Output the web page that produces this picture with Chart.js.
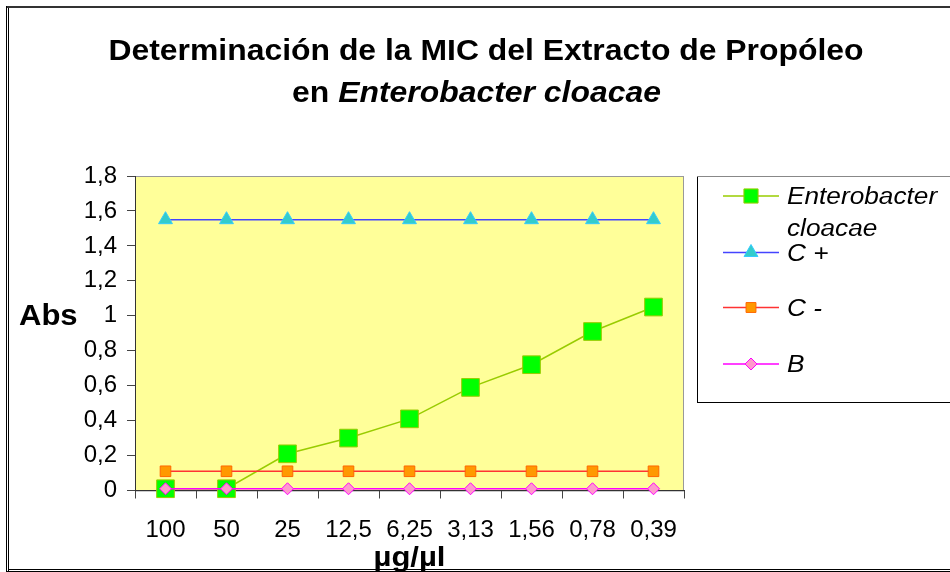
<!DOCTYPE html>
<html>
<head>
<meta charset="utf-8">
<script src="https://cdn.jsdelivr.net/npm/chart.js@4.4.0/dist/chart.umd.min.js"></script>
<style>
  html, body { margin: 0; padding: 0; background: #ffffff; }
  canvas { display: block; }
</style>
</head>
<body>
<canvas id="c" width="950" height="572"></canvas>
<script>
// Concentrations of propolis extract (µg/µl) along the x axis
const concentrations = ['100', '50', '25', '12,5', '6,25', '3,13', '1,56', '0,78', '0,39'];

// Absorbance readings per series
const enterobacter = [0.01, 0.01, 0.21, 0.30, 0.41, 0.59, 0.72, 0.91, 1.05];
const controlPos   = [1.55, 1.55, 1.55, 1.55, 1.55, 1.55, 1.55, 1.55, 1.55];
const controlNeg   = [0.11, 0.11, 0.11, 0.11, 0.11, 0.11, 0.11, 0.11, 0.11];
const blank        = [0.01, 0.01, 0.01, 0.01, 0.01, 0.01, 0.01, 0.01, 0.01];

// Y axis labels (decimal comma), one per 0.2 step
const yTickLabels = ['0', '0,2', '0,4', '0,6', '0,8', '1', '1,2', '1,4', '1,6', '1,8'];

const FONT = "'Liberation Sans', Arial, sans-serif";

const series = [
  { label: ['Enterobacter', 'cloacae'], data: enterobacter, line: '#99CC00', fill: '#00FF00', stroke: '#99CC00', shape: 'rect', r: 12.5, order: 4 },
  { label: ['C +'], data: controlPos, line: '#4444FF', fill: '#33CCCC', stroke: '#33CCFF', shape: 'triangle', r: 8, order: 3 },
  { label: ['C -'], data: controlNeg, line: '#FF3333', fill: '#FF9900', stroke: '#FF6600', shape: 'rect', r: 7.5, order: 2 },
  { label: ['B'], data: blank, line: '#FF00FF', fill: '#FF99CC', stroke: '#FF00FF', shape: 'rectRot', r: 6, order: 1 }
];

function drawMarker(ctx, shape, x, y, r, fill, stroke) {
  ctx.beginPath();
  if (shape === 'rect') {
    const s = Math.SQRT1_2 * r;
    ctx.rect(x - s, y - s, 2 * s, 2 * s);
  } else if (shape === 'triangle') {
    ctx.moveTo(x, y - r);
    ctx.lineTo(x + r * Math.sin(2 * Math.PI / 3), y + r / 2);
    ctx.lineTo(x - r * Math.sin(2 * Math.PI / 3), y + r / 2);
    ctx.closePath();
  } else {
    ctx.moveTo(x - r, y);
    ctx.lineTo(x, y - r);
    ctx.lineTo(x + r, y);
    ctx.lineTo(x, y + r);
    ctx.closePath();
  }
  ctx.fillStyle = fill;
  ctx.fill();
  ctx.lineWidth = 1;
  ctx.strokeStyle = stroke;
  ctx.stroke();
}

// Text drawn with a horizontal stretch factor, left-aligned at x
function stretchedText(ctx, text, x, y, sx) {
  ctx.save();
  ctx.translate(x, y);
  ctx.scale(sx, 1);
  ctx.textAlign = 'left';
  ctx.fillText(text, 0, 0);
  ctx.restore();
}

// Plot background, outer frame, titles and legend
const decorations = {
  id: 'decorations',
  beforeDraw(chart) {
    const { ctx, chartArea: a } = chart;
    ctx.save();
    ctx.fillStyle = '#ffffff';
    ctx.fillRect(0, 0, chart.width, chart.height);
    ctx.fillStyle = '#FFFF99';
    ctx.fillRect(a.left, a.top, a.right - a.left, a.bottom - a.top);
    ctx.strokeStyle = '#999999';
    ctx.lineWidth = 1;
    ctx.strokeRect(a.left + 0.5, a.top + 0.5, a.right - a.left - 1, a.bottom - a.top);
    ctx.restore();
  },
  afterDraw(chart) {
    const { ctx, chartArea: a } = chart;
    ctx.save();

    // outer frame
    ctx.strokeStyle = '#333333';
    ctx.lineWidth = 2;
    ctx.beginPath(); ctx.moveTo(6, 7); ctx.lineTo(950, 7); ctx.stroke();
    ctx.lineWidth = 1;
    ctx.strokeStyle = '#000000';
    ctx.beginPath();
    ctx.moveTo(6.5, 6); ctx.lineTo(6.5, 572);
    ctx.moveTo(8.5, 8); ctx.lineTo(8.5, 572);
    ctx.moveTo(8, 569.5); ctx.lineTo(950, 569.5);
    ctx.moveTo(6, 571.5); ctx.lineTo(950, 571.5);
    ctx.stroke();

    // title, two lines, the organism name in italics
    const SX = 1.1;
    ctx.fillStyle = '#000000';
    ctx.textBaseline = 'alphabetic';
    ctx.font = `bold 29px ${FONT}`;
    const t1 = 'Determinación de la MIC del Extracto de Propóleo';
    const tw1 = ctx.measureText(t1).width * SX;
    stretchedText(ctx, t1, 486 - tw1 / 2, 60, SX);
    const p1 = 'en ', p2 = 'Enterobacter cloacae';
    const w1 = ctx.measureText(p1).width * SX;
    ctx.font = `italic bold 29px ${FONT}`;
    const w2 = ctx.measureText(p2).width * SX;
    const x0 = 476.5 - (w1 + w2) / 2;
    ctx.font = `bold 29px ${FONT}`;
    stretchedText(ctx, p1, x0, 102, SX);
    ctx.font = `italic bold 29px ${FONT}`;
    stretchedText(ctx, p2, x0 + w1, 102, SX);

    // axis titles
    ctx.font = `bold 29px ${FONT}`;
    stretchedText(ctx, 'Abs', 19, 325, 1.07);
    ctx.font = `bold 27px ${FONT}`;
    const xt = 'µg/µl';
    const xtw = ctx.measureText(xt).width * 1.15;
    stretchedText(ctx, xt, (a.left + a.right) / 2 - xtw / 2, 566, 1.15);

    // legend box (open on the right, running past the edge)
    ctx.fillStyle = '#ffffff';
    ctx.fillRect(697, 176, 260, 226);
    ctx.strokeStyle = '#000000';
    ctx.lineWidth = 1;
    ctx.strokeRect(697.5, 176.5, 260, 226);
    ctx.strokeStyle = '#888888';
    ctx.beginPath(); ctx.moveTo(697, 176.5); ctx.lineTo(950, 176.5); ctx.stroke();

    const rows = [196, 252.5, 307.5, 364];
    const legendR = [10, 8, 7, 6];
    ctx.font = `italic 23px ${FONT}`;
    series.forEach((s, i) => {
      const y = rows[i];
      ctx.strokeStyle = s.line;
      ctx.lineWidth = 1.5;
      ctx.beginPath(); ctx.moveTo(723, y); ctx.lineTo(779, y); ctx.stroke();
      drawMarker(ctx, s.shape, 751, y, legendR[i], s.fill, s.stroke);
      ctx.fillStyle = '#000000';
      ctx.textBaseline = 'alphabetic';
      s.label.forEach((t, k) => stretchedText(ctx, t, 787, y + 8 + k * 32, 1.14));
    });
    ctx.restore();
  }
};

const datasets = series.map(s => ({
  label: s.label.join(' '),
  data: s.data,
  borderColor: s.line,
  borderWidth: 1.5,
  backgroundColor: s.fill,
  pointStyle: s.shape,
  pointRadius: s.r,
  pointHoverRadius: s.r,
  pointBackgroundColor: s.fill,
  pointBorderColor: s.stroke,
  pointBorderWidth: 1,
  tension: 0,
  fill: false,
  clip: false,
  order: s.order
}));

new Chart(document.getElementById('c'), {
  type: 'line',
  data: { labels: concentrations, datasets },
  options: {
    responsive: false,
    devicePixelRatio: 1,
    animation: false,
    events: [],
    layout: { padding: { top: 176, right: 266, bottom: 0, left: 0 } },
    plugins: { legend: { display: false }, title: { display: false }, tooltip: { enabled: false } },
    scales: {
      x: {
        offset: true,
        grid: { offset: true, drawOnChartArea: false, drawTicks: true, tickLength: 8, color: '#444444' },
        border: { display: true, color: '#333333', width: 1 },
        ticks: { color: '#000000', font: { family: FONT, size: 24 }, padding: 17, maxRotation: 0, autoSkip: false },
        afterFit(scale) { scale.height = 81.5; }
      },
      y: {
        min: 0,
        max: 1.8,
        grid: { drawOnChartArea: false, drawTicks: true, tickLength: 8, color: '#444444' },
        border: { display: true, color: '#333333', width: 1 },
        ticks: {
          stepSize: 0.2,
          color: '#000000',
          font: { family: FONT, size: 24 },
          padding: 10,
          callback: (v) => yTickLabels[Math.round(v / 0.2)]
        },
        afterFit(scale) { scale.width = 135; }
      }
    }
  },
  plugins: [decorations]
});
</script>
</body>
</html>
